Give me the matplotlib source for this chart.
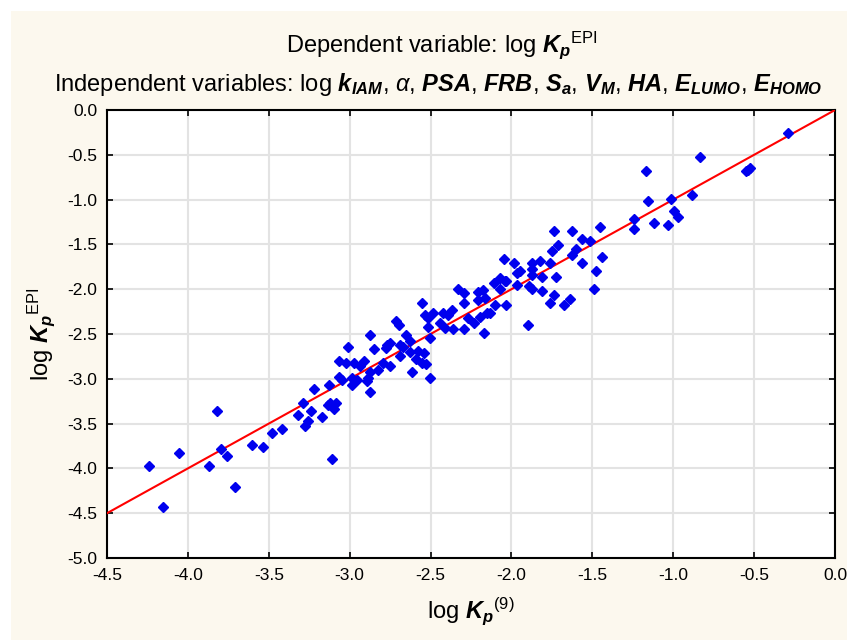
import matplotlib
matplotlib.use("Agg")
import matplotlib.pyplot as plt
from matplotlib.patches import Rectangle

plt.rcParams['font.family'] = ['Liberation Sans', 'DejaVu Sans']
plt.rcParams['mathtext.fontset'] = 'custom'
plt.rcParams['mathtext.rm'] = 'Liberation Sans'
plt.rcParams['mathtext.it'] = 'Liberation Sans:italic'
plt.rcParams['mathtext.bf'] = 'Liberation Sans:bold'
plt.rcParams['mathtext.bfit'] = 'Liberation Sans:bold:italic'

# log Kp(9) vs log Kp EPI
log_kp9 = [
    -4.239, -4.152, -4.055, -3.868, -3.818, -3.794, -3.756, -3.707, -3.606, -3.534,
    -3.482, -3.420, -3.321, -3.287, -3.274, -3.260, -3.237, -3.223, -3.173, -3.126,
    -3.134, -3.122, -3.085, -3.095, -3.109, -3.050, -2.988,
    -3.064, -3.012, -3.064, -3.025, -2.988, -2.957, -2.973, -2.936, -2.912, -2.895,
    -2.885, -2.875, -2.875, -2.875, -2.850, -2.823, -2.792, -2.776, -2.771, -2.751,
    -2.751, -2.716, -2.694, -2.689, -2.673, -2.689, -2.652, -2.627, -2.627, -2.617,
    -2.590, -2.576, -2.555, -2.541, -2.528, -2.504, -2.504, -2.553, -2.535, -2.514,
    -2.516, -2.483, -2.442, -2.421, -2.411, -2.390, -2.369, -2.360, -2.329, -2.294,
    -2.294, -2.294, -2.267, -2.232, -2.206, -2.206, -2.195, -2.175, -2.164, -2.168,
    -2.150, -2.133, -2.106, -2.102, -2.071, -2.071, -2.040, -2.046, -2.034,
    -1.169, -1.155, -1.011, -0.994, -0.969, -1.031, -1.120, -1.243, -1.243, -1.453,
    -1.443, -1.478, -1.490, -1.515, -1.564, -1.564, -1.601, -1.624, -1.624, -1.638,
    -1.674, -1.713, -1.737, -1.750, -1.762, -1.725, -1.737, -1.762, -1.810, -1.810,
    -1.824, -1.873, -1.873, -1.873, -1.873, -1.890, -1.900, -1.948, -1.964, -1.964,
    -1.985, -2.034,
    -0.289, -0.835, -0.551, -0.526, -0.540, -0.883,
]
log_kp_epi = [
    -3.970, -4.434, -3.832, -3.970, -3.363, -3.787, -3.858, -4.211, -3.743, -3.765,
    -3.609, -3.564, -3.408, -3.274, -3.523, -3.471, -3.363, -3.117, -3.430, -3.073,
    -3.296, -3.274, -3.274, -3.341, -3.898, -3.010, -3.070,
    -2.976, -2.649, -2.801, -2.827, -2.995, -3.013, -2.827, -2.857, -2.801, -3.025,
    -2.995, -2.920, -3.144, -2.515, -2.671, -2.902, -2.827, -2.660, -2.623, -2.597,
    -2.854, -2.355, -2.400, -2.623, -2.649, -2.746, -2.515, -2.575, -2.697, -2.920,
    -2.783, -2.686, -2.827, -2.716, -2.835, -2.987, -2.549, -2.158, -2.288, -2.325,
    -2.426, -2.269, -2.381, -2.269, -2.437, -2.288, -2.232, -2.444, -2.001, -2.046,
    -2.158, -2.448, -2.325, -2.381, -2.028, -2.121, -2.307, -2.009, -2.102, -2.492,
    -2.269, -2.269, -1.934, -2.176, -1.878, -2.001, -1.908, -1.667, -2.176,
    -0.681, -1.016, -0.993, -1.127, -1.191, -1.283, -1.258, -1.220, -1.328, -1.309,
    -1.644, -1.800, -1.998, -1.462, -1.440, -1.711, -1.555, -1.350, -1.622, -2.109,
    -2.176, -1.507, -1.350, -1.574, -1.711, -1.864, -2.065, -2.158, -1.867, -2.020,
    -1.689, -1.711, -1.778, -1.842, -2.001, -1.964, -2.400, -1.793, -1.823, -1.953,
    -1.711, -1.905,
    -0.253, -0.528, -0.681, -0.644, -0.665, -0.949,
]
ideal = [-4.5, 0.0]

fig = plt.figure(figsize=(8.47, 6.40), dpi=100)
fig.patch.set_facecolor('white')
fig.patches.append(Rectangle((11 / 847, 0), 1, 1 - 11 / 640, transform=fig.transFigure,
                             facecolor='#fcf8ee', edgecolor='none', zorder=-10))
ax = fig.add_axes([107 / 847, 82 / 640, 728 / 847, 448 / 640])
ax.set_facecolor('white')

ax.plot(ideal, ideal, color='red', lw=1.5, zorder=3)
ax.plot(log_kp9, log_kp_epi, 'D', color='#0000ee', ms=5, mec='#0000ee', ls='none', zorder=4)

ax.set_xlim(-4.5, 0.0)
ax.set_ylim(-5.0, 0.0)
ax.set_xticks([-4.5 + 0.5 * i for i in range(10)])
ax.set_yticks([-5.0 + 0.5 * i for i in range(11)])
ax.xaxis.set_major_formatter(plt.FormatStrFormatter('%.1f'))
ax.yaxis.set_major_formatter(plt.FormatStrFormatter('%.1f'))
ax.grid(True, color='#e3e3e3', lw=1.5)
ax.set_axisbelow(True)
ax.tick_params(direction='in', length=4, width=1.2, top=True, right=True,
               labelsize=12.5, pad=7, colors='black')
for s in ax.spines.values():
    s.set_linewidth(1.5)

ax.set_xlabel(r'log $\mathbfit{K}_{\mathbfit{p}}{}^{\mathrm{(9)}}$', fontsize=17, labelpad=9)
ax.set_ylabel(r'log $\mathbfit{K}_{\mathbfit{p}}{}^{\mathrm{EPI}}$', fontsize=17, labelpad=7)

fig.text(0.522, 0.93, r'Dependent variable: log $\mathbfit{K}_{\mathbfit{p}}{}^{\mathrm{EPI}}$',
         ha='center', va='center', fontsize=17)
fig.text(0.517, 0.868,
         r'Independent variables: log $\mathbfit{k}_{\mathbfit{IAM}}$, $\alpha$, '
         r'$\mathbfit{PSA}$, $\mathbfit{FRB}$, $\mathbfit{S}_{\mathbfit{a}}$, '
         r'$\mathbfit{V}_{\mathbfit{M}}$, $\mathbfit{HA}$, $\mathbfit{E}_{\mathbfit{LUMO}}$, '
         r'$\mathbfit{E}_{\mathbfit{HOMO}}$',
         ha='center', va='center', fontsize=17)

fig.savefig('out.png', dpi=100, facecolor=fig.get_facecolor())
